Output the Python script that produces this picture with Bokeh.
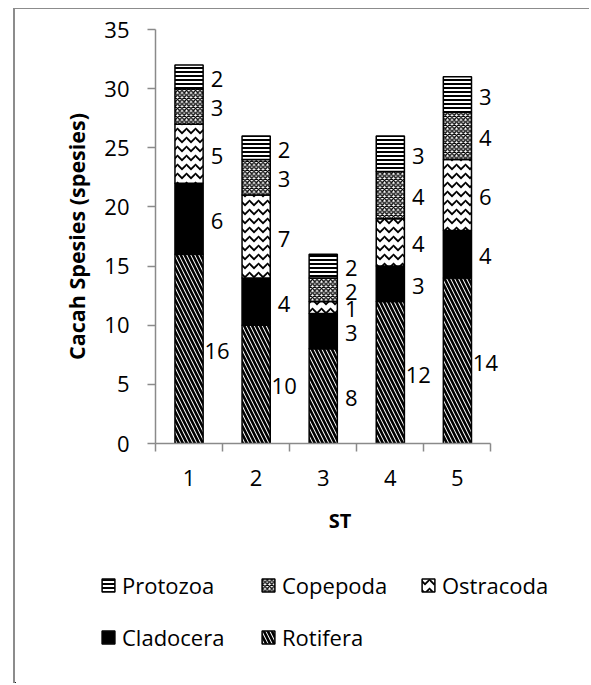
from bokeh.plotting import figure
from bokeh.models import Range1d, FixedTicker, Legend, LegendItem, ColumnDataSource
from bokeh.core.properties import value
from bokeh.embed import file_html
from bokeh.resources import INLINE

# ---- data ----
stations = [1, 2, 3, 4, 5]
station_labels = ["1", "2", "3", "4", "5"]
rotifera = [16, 10, 8, 12, 14]
cladocera = [6, 4, 3, 3, 4]
ostracoda = [5, 7, 1, 4, 6]
copepoda = [3, 3, 2, 4, 4]
protozoa = [2, 2, 2, 3, 3]
series_names = ["Rotifera", "Cladocera", "Ostracoda", "Copepoda", "Protozoa"]
legend_order = ["Protozoa", "Copepoda", "Ostracoda", "Cladocera", "Rotifera"]
y_ticks = [0, 5, 10, 15, 20, 25, 30, 35]
x_boundaries = [0.5, 1.5, 2.5, 3.5, 4.5, 5.5]

series_values = [rotifera, cladocera, ostracoda, copepoda, protozoa]

FONT = "Open Sans"
AXIS_GRAY = "#8a8a8a"

bar_style = dict(
    fill_color=["white", "black", "white", "white", "white"],
    hatch_pattern=["left_diagonal_line", " ", "horizontal_wave", "diagonal_cross", "horizontal_line"],
    hatch_scale=[8, 12, 9, 4.5, 4],
    hatch_weight=[2.6, 1, 1.8, 1.4, 2],
    hatch_color="black",
    line_color="black", line_width=1.5,
)


def make_source():
    return ColumnDataSource(dict(x=stations, **{n: v for n, v in zip(series_names, series_values)}))


# ---- main chart ----
p = figure(width=576, height=544, output_backend="svg", toolbar_location=None,
           x_range=Range1d(0.5, 6.0), y_range=Range1d(0, 35),
           min_border_left=140, min_border_right=67, min_border_top=20, min_border_bottom=110)
p.margin = (8, 0, 0, 13)
p.styles = {"border-left": "2px solid #8c8c8c", "border-top": "1.5px solid #8c8c8c"}
p.outline_line_color = None
p.xgrid.visible = False
p.ygrid.visible = False

p.vbar_stack(series_names, x="x", width=0.42, source=make_source(), **bar_style)

# data labels
lx, ly, lt = [], [], []
for i, st in enumerate(stations):
    base = 0
    for s in series_values:
        v = s[i]
        lx.append(st)
        ly.append(base + v / 2)
        lt.append(str(v))
        base += v
p.text(x="x", y="y", text="t", source=ColumnDataSource(dict(x=lx, y=ly, t=lt)),
       x_offset=28, y_offset=2, text_align="center", text_baseline="middle",
       text_font=value(FONT), text_font_size="22px", text_color="black")

xa = p.xaxis[0]
xa.bounds = (0.5, 5.5)
xa.ticker = FixedTicker(ticks=stations, minor_ticks=x_boundaries)
xa.major_label_overrides = {s: l for s, l in zip(stations, station_labels)}
xa.major_tick_out = 0
xa.major_tick_in = 0
xa.minor_tick_out = 8
xa.minor_tick_in = 0
xa.minor_tick_line_color = AXIS_GRAY
xa.minor_tick_line_width = 1.5
xa.axis_line_color = AXIS_GRAY
xa.axis_line_width = 1.5
xa.major_label_standoff = 18
xa.major_label_text_font = FONT
xa.major_label_text_font_size = "22px"
xa.major_label_text_color = "black"
xa.axis_label = "ST"
xa.axis_label_text_font = FONT
xa.axis_label_text_font_style = "bold"
xa.axis_label_text_font_size = "20px"
xa.axis_label_text_color = "black"
xa.axis_label_standoff = 18

ya = p.yaxis[0]
ya.ticker = FixedTicker(ticks=y_ticks, minor_ticks=[])
ya.major_tick_out = 8
ya.major_tick_in = 0
ya.major_tick_line_color = AXIS_GRAY
ya.major_tick_line_width = 1.5
ya.minor_tick_out = 0
ya.minor_tick_in = 0
ya.axis_line_color = AXIS_GRAY
ya.axis_line_width = 1.5
ya.major_label_standoff = 18
ya.major_label_text_font = FONT
ya.major_label_text_font_size = "22px"
ya.major_label_text_color = "black"
ya.axis_label = "Cacah Spesies (spesies)"
ya.axis_label_text_font = FONT
ya.axis_label_text_font_style = "bold"
ya.axis_label_text_font_size = "21.5px"
ya.axis_label_text_color = "black"
ya.axis_label_standoff = 10

# ---- legend strip (same series, drawn out of view; only the legend shows) ----
pl = figure(width=576, height=131, output_backend="svg", toolbar_location=None,
            x_range=Range1d(100, 101), y_range=Range1d(100, 101),
            x_axis_type=None, y_axis_type=None,
            min_border_left=0, min_border_right=0, min_border_top=0, min_border_bottom=0)
pl.margin = (0, 0, 0, 13)
pl.styles = {"border-left": "2px solid #8c8c8c"}
pl.outline_line_color = None
pl.xgrid.visible = False
pl.ygrid.visible = False
leg_renderers = pl.vbar_stack(series_names, x="x", width=0.42, source=make_source(), **bar_style)
by_name = dict(zip(series_names, leg_renderers))
items = [LegendItem(label=n, renderers=[by_name[n]]) for n in legend_order]
legend = Legend(items=items, location=(85, 31), orientation="horizontal", ncols=3,
                glyph_width=16, glyph_height=16, label_standoff=6, label_width=116,
                spacing=22, padding=0, margin=0, border_line_color=None,
                background_fill_alpha=0,
                label_text_font=FONT, label_text_font_size="22px", label_text_color="black")
pl.add_layout(legend, "center")

open("out.html", "w").write(file_html([p, pl], INLINE))
